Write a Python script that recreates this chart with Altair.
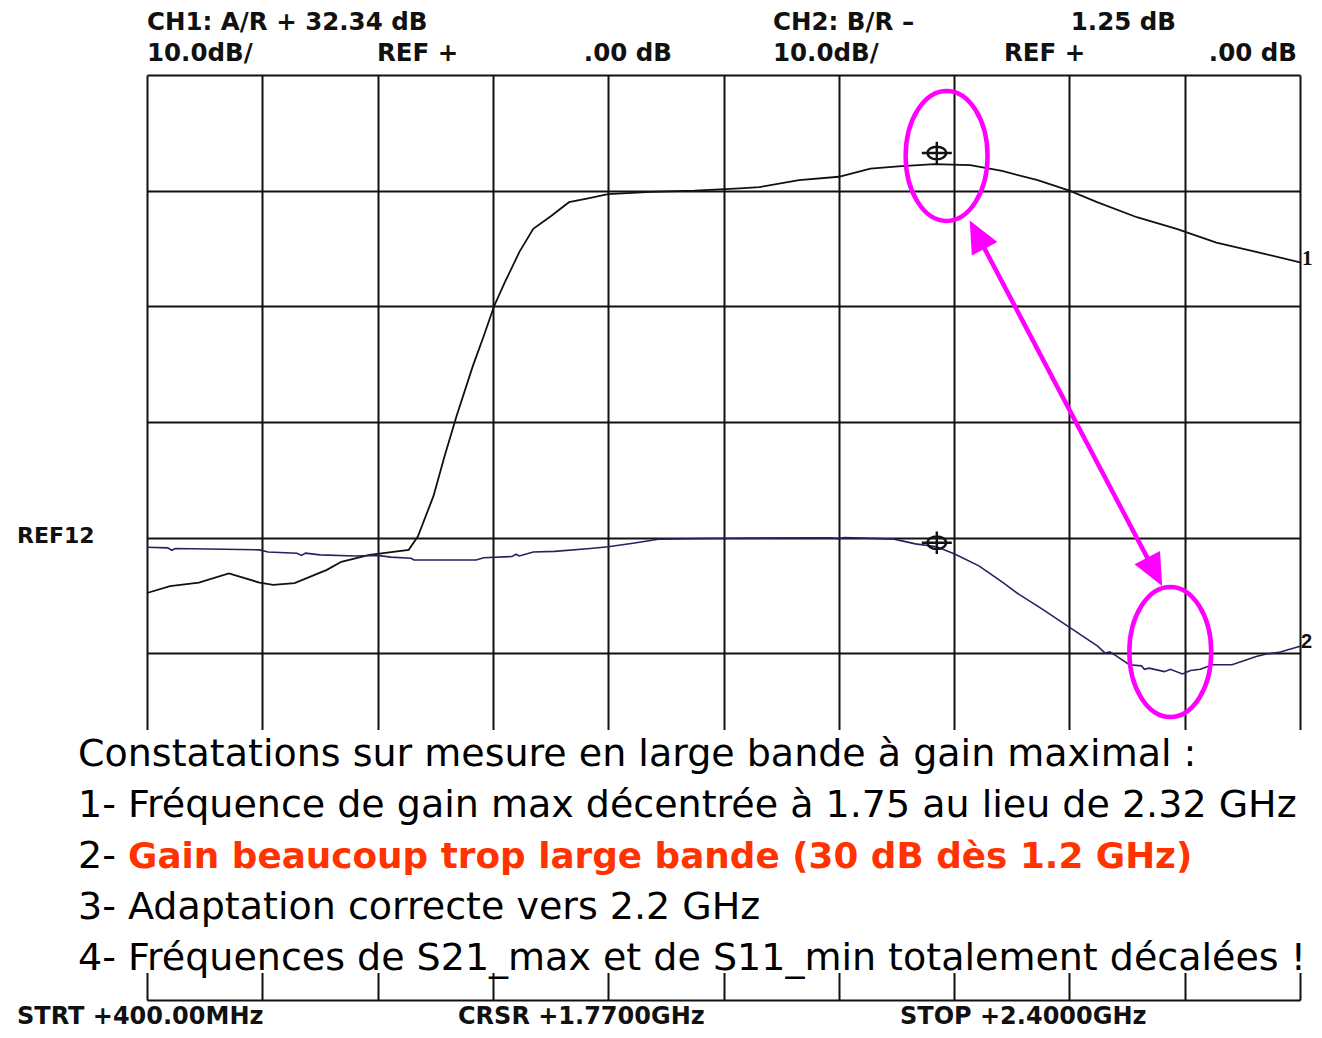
import altair as alt
import pandas as pd

# ---------------- data ----------------
# Trace 1 : S21 gain (CH1, A/R), dB
freq_s21 = [400, 440, 490, 542, 595, 619, 656, 712, 737, 786, 854, 870, 897, 916,
            937, 965, 984, 1002, 1021, 1046, 1070, 1101, 1132, 1163, 1200, 1274,
            1350, 1428, 1462, 1531, 1600, 1655, 1703, 1766, 1828, 1883, 1945, 2000,
            2048, 2117, 2186, 2255, 2324, 2400]
s21_db = [-4.8, -4.2, -3.9, -3.1, -3.9, -4.1, -3.95, -2.8, -2.1, -1.5, -1.07, 0.1,
          3.6, 7.0, 10.5, 14.8, 17.4, 20.0, 22.1, 24.7, 26.7, 27.8, 29.0, 29.3,
          29.7, 29.9, 30.0, 30.2, 30.3, 30.9, 31.2, 31.9, 32.1, 32.3, 32.2, 31.7,
          30.9, 30.0, 29.0, 27.7, 26.7, 25.5, 24.7, 23.8]

# Trace 2 : S11 (CH2, B/R), dB
freq_s11 = [400, 436, 443, 449, 595, 610, 660, 668, 675, 700, 761, 800, 823, 858,
            863, 885, 971, 984, 1033, 1040, 1046, 1070, 1107, 1169, 1200, 1243,
            1287, 1362, 1586, 1600, 1610, 1696, 1733, 1770, 1802, 1843, 1885, 1912,
            1953, 2001, 2049, 2062, 2070, 2080, 2104, 2125, 2130, 2138, 2165, 2175,
            2196, 2210, 2227, 2248, 2282, 2300, 2324, 2340, 2366, 2400]
s11_db = [-0.84, -0.9, -1.1, -0.95, -1.07, -1.25, -1.36, -1.55, -1.35, -1.5, -1.6,
          -1.55, -1.7, -1.8, -1.95, -1.94, -1.94, -1.75, -1.65, -1.45, -1.6, -1.25,
          -1.2, -0.95, -0.8, -0.5, -0.15, -0.08, -0.02, -0.1, 0.0, -0.14, -0.55,
          -0.8, -1.45, -2.45, -3.9, -4.9, -6.2, -7.8, -9.4, -10.0, -9.9, -10.2,
          -11.0, -11.1, -11.4, -11.3, -11.6, -11.4, -11.8, -11.5, -11.4, -11.0,
          -11.0, -10.7, -10.3, -10.1, -9.9, -9.4]

# grid divisions
x_ticks = list(range(400, 2401, 200))    # MHz, 200 MHz/div
y_ticks = list(range(-40, 41, 10))       # dB, 10 dB/div

# cursor markers (1.77 GHz)
marker_freq = [1770, 1770]
marker_db = [33.25, -0.45]

# magenta annotations
ellipse_freq = [1787, 2175]
ellipse_db = [33.0, -9.9]
arrow_freq = [1840, 2148]
arrow_db = [26.2, -2.97]

# white note box (behind the notes)
box_freq = [249, 2421]
box_db = [-16.65, -37.67]

# texts
hdr_ch1 = ["CH1: A/R + 32.34 dB", "10.0dB/", "REF +", ".00 dB"]
hdr_ch2 = ["CH2: B/R \u2013", "1.25 dB", "10.0dB/", "REF +", ".00 dB"]
footer = ["STRT +400.00MHz", "CRSR +1.7700GHz", "STOP +2.4000GHz"]
ref_label = "REF12"
trace_labels = ["1", "2"]
notes = [
    "Constatations sur mesure en large bande \u00e0 gain maximal :",
    "1- Fr\u00e9quence de gain max d\u00e9centr\u00e9e \u00e0 1.75 au lieu de 2.32 GHz",
    "2- ",
    "3- Adaptation correcte vers 2.2 GHz",
    "4- Fr\u00e9quences de S21_max et de S11_min totalement d\u00e9cal\u00e9es !",
]
note_highlight = "Gain beaucoup trop large bande (30 dB d\u00e8s 1.2 GHz)"

# ---------------- chart ----------------
W, H = 1153, 925
xs = alt.Scale(domain=[400, 2400], nice=False, zero=False)
ys = alt.Scale(domain=[-40, 40], nice=False, zero=False)

x_axis = alt.Axis(values=x_ticks, grid=True, labels=False, ticks=False, domain=False,
                  title=None, gridColor="#111111", gridWidth=2, gridOpacity=1)
y_axis = alt.Axis(values=y_ticks, grid=True, labels=False, ticks=False, domain=False,
                  title=None, gridColor="#111111", gridWidth=2, gridOpacity=1)

df21 = pd.DataFrame({"f": freq_s21, "db": s21_db})
df11 = pd.DataFrame({"f": freq_s11, "db": s11_db})

trace1 = alt.Chart(df21).mark_line(color="#111111", strokeWidth=1.8).encode(
    x=alt.X("f:Q", scale=xs, axis=x_axis),
    y=alt.Y("db:Q", scale=ys, axis=y_axis),
)
trace2 = alt.Chart(df11).mark_line(color="#23235e", strokeWidth=1.6).encode(
    x=alt.X("f:Q", scale=xs),
    y=alt.Y("db:Q", scale=ys),
)

box = alt.Chart(pd.DataFrame({"f": [box_freq[0]], "f2": [box_freq[1]],
                              "d": [box_db[0]], "d2": [box_db[1]]})).mark_rect(
    color="white", opacity=1).encode(
    x=alt.X("f:Q", scale=xs), x2="f2:Q",
    y=alt.Y("d:Q", scale=ys), y2="d2:Q",
)

marker_path = ("M-0.62,0 A0.62,0.42 0 1,1 0.62,0 A0.62,0.42 0 1,1 -0.62,0 "
               "M-1,0 L1,0 M0,-0.75 L0,0.75")
markers = alt.Chart(pd.DataFrame({"f": marker_freq, "db": marker_db})).mark_point(
    shape=marker_path, size=900, filled=False, color="#111111", strokeWidth=2.4,
    opacity=1).encode(
    x=alt.X("f:Q", scale=xs), y=alt.Y("db:Q", scale=ys),
)

ellipse_path = "M0,-1 A0.63,1 0 1,1 0,1 A0.63,1 0 1,1 0,-1 Z"
ellipses = alt.Chart(pd.DataFrame({"f": ellipse_freq, "db": ellipse_db})).mark_point(
    shape=ellipse_path, size=16900, filled=False, color="#ff00ff", strokeWidth=4.5,
    opacity=1).encode(
    x=alt.X("f:Q", scale=xs), y=alt.Y("db:Q", scale=ys),
)

arrow_line = alt.Chart(pd.DataFrame({"f": [arrow_freq[0]], "f2": [arrow_freq[1]],
                                     "d": [arrow_db[0]], "d2": [arrow_db[1]]})).mark_rule(
    color="#ff00ff", strokeWidth=4.5).encode(
    x=alt.X("f:Q", scale=xs), x2="f2:Q",
    y=alt.Y("d:Q", scale=ys), y2="d2:Q",
)
head_path = "M0,-1 L0.9,1 L-0.9,1 Z"
arrow_heads = alt.Chart(pd.DataFrame({"f": arrow_freq, "db": arrow_db,
                                      "ang": [332.3, 152.3]})).mark_point(
    shape=head_path, size=1024, filled=True, color="#ff00ff", opacity=1).encode(
    x=alt.X("f:Q", scale=xs), y=alt.Y("db:Q", scale=ys),
    angle=alt.Angle("ang:Q", scale=None),
)


def label(txt, x, y, align="left", font="DejaVu Sans", size=24.5, weight="bold",
          color="#111111"):
    return alt.Chart(pd.DataFrame({"t": [txt]})).mark_text(
        align=align, baseline="alphabetic", font=font, fontSize=size,
        fontWeight=weight, color=color).encode(
        text="t:N", x=alt.value(x), y=alt.value(y))


texts = [
    label(hdr_ch1[0], 0, -45),
    label(hdr_ch1[1], 0, -14),
    label(hdr_ch1[2], 230, -14),
    label(hdr_ch1[3], 525, -14, align="right"),
    label(hdr_ch2[0], 626, -45),
    label(hdr_ch2[1], 1029, -45, align="right"),
    label(hdr_ch2[2], 626, -14),
    label(hdr_ch2[3], 857, -14),
    label(hdr_ch2[4], 1150, -14, align="right"),
    label(footer[0], -130, 949, size=24),
    label(footer[1], 311, 949, size=24),
    label(footer[2], 753, 949, size=24),
    label(ref_label, -130, 468, size=22),
    label(trace_labels[0], 1155, 190, font="Liberation Serif", size=21),
    label(trace_labels[1], 1154, 573, font="Liberation Sans", size=20),
]

note_y = [691, 742, 793, 844, 895]
for txt, yy in zip(notes, note_y):
    texts.append(label(txt, -69, yy, size=38, weight="normal", color="#000000"))
texts.append(label(note_highlight, -19, note_y[2], size=35.8, weight="bold",
                   color="#ff3300"))

chart = alt.layer(
    trace1, box, trace2, markers, ellipses, arrow_line, arrow_heads, *texts
).properties(
    width=W, height=H,
    autosize=alt.AutoSizeParams(type="none"),
    padding={"left": 139, "top": 67, "right": 14, "bottom": 30},
    background="white",
).configure_view(stroke=None)

chart.save("out.html", embed_options={"renderer": "svg", "actions": False})
